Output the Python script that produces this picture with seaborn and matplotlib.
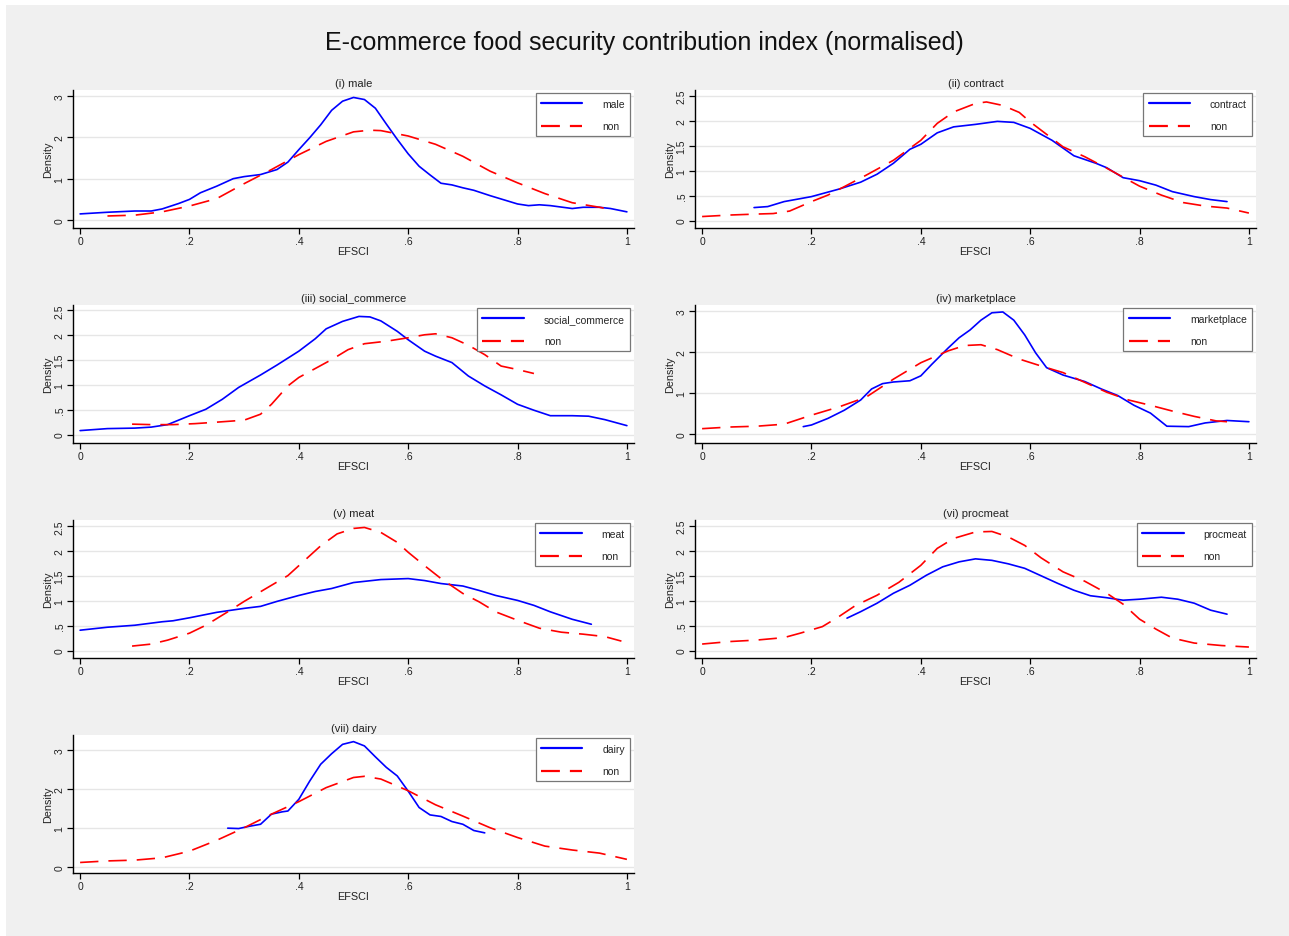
import matplotlib
matplotlib.use("Agg")
import matplotlib.pyplot as plt
from matplotlib.patches import Rectangle
import seaborn as sns
import pandas as pd

# ---------------- data ----------------
main_title = "E-commerce food security contribution index (normalised)"
panel_titles = ["(i) male", "(ii) contract", "(iii) social_commerce", "(iv) marketplace",
                "(v) meat", "(vi) procmeat", "(vii) dairy"]
group_labels = ["male", "contract", "social_commerce", "marketplace", "meat", "procmeat", "dairy"]
other_label = "non"
x_label = "EFSCI"
y_label = "Density"
x_ticks = [0, 0.2, 0.4, 0.6, 0.8, 1.0]
x_ticklabels = ["0", ".2", ".4", ".6", ".8", "1"]

male_x = [0, .05, .1, .13, .15, .18, .2, .22, .25, .28, .3, .33, .36, .38, .4, .42, .44, .46, .48, .5,
          .52, .54, .56, .58, .6, .62, .64, .66, .68, .7, .72, .75, .78, .8, .82, .84, .86, .9, .92, .95, .97, 1.0]
male_y = [.15, .19, .22, .22, .27, .4, .5, .66, .82, 1.0, 1.05, 1.1, 1.22, 1.4, 1.7, 1.99, 2.3, 2.65, 2.87, 2.96,
          2.91, 2.7, 2.32, 1.95, 1.6, 1.3, 1.09, .89, .85, .78, .72, .59, .47, .39, .35, .37, .35, .28, .31, .31, .28, .2]
male_non_x = [.05, .1, .15, .2, .25, .3, .35, .4, .45, .5, .53, .55, .6, .65, .7, .75, .8, .85, .9, .95, .97]
male_non_y = [.1, .12, .2, .34, .52, .88, 1.22, 1.58, 1.9, 2.13, 2.17, 2.16, 2.03, 1.83, 1.54, 1.18, .9, .64, .42, .31, .26]

contract_x = [.095, .12, .15, .2, .25, .29, .32, .35, .38, .4, .43, .46, .5, .54, .57, .6, .64, .68, .72, .74,
              .77, .8, .83, .86, .9, .93, .96]
contract_y = [.26, .28, .38, .48, .63, .77, .93, 1.15, 1.43, 1.53, 1.76, 1.88, 1.93, 1.99, 1.97, 1.85, 1.61, 1.3,
              1.15, 1.06, .86, .8, .71, .58, .48, .42, .38]
contract_non_x = [0, .05, .1, .13, .16, .2, .23, .26, .3, .35, .4, .43, .46, .5, .52, .55, .58, .6, .63, .66,
                  .7, .74, .78, .8, .84, .88, .92, .96, 1.0]
contract_non_y = [.08, .11, .13, .14, .19, .38, .51, .68, .91, 1.21, 1.61, 1.95, 2.18, 2.35, 2.38, 2.31, 2.17, 1.98,
                  1.73, 1.48, 1.28, 1.05, .81, .69, .51, .36, .29, .25, .15]

social_x = [0, .05, .1, .13, .16, .2, .23, .26, .29, .33, .36, .4, .43, .45, .48, .51, .53, .55, .58, .6, .63,
            .65, .68, .71, .74, .77, .8, .83, .86, .9, .93, .96, 1.0]
social_y = [.08, .12, .13, .15, .2, .38, .51, .71, .95, 1.2, 1.4, 1.68, 1.93, 2.13, 2.28, 2.38, 2.37, 2.29, 2.08,
            1.91, 1.68, 1.58, 1.45, 1.18, .98, .8, .61, .49, .38, .38, .37, .3, .18]
social_non_x = [.095, .13, .17, .21, .25, .3, .33, .35, .38, .4, .43, .46, .49, .52, .56, .6, .63, .65, .68,
                .71, .74, .77, .8, .83]
social_non_y = [.21, .2, .2, .22, .25, .29, .41, .61, .98, 1.15, 1.33, 1.51, 1.71, 1.83, 1.88, 1.95, 2.01, 2.03,
                1.95, 1.8, 1.61, 1.38, 1.31, 1.23]

market_x = [.185, .2, .23, .26, .29, .31, .33, .35, .38, .4, .42, .45, .47, .49, .51, .53, .55, .57, .59, .61,
            .63, .66, .7, .73, .76, .79, .82, .85, .89, .92, .96, 1.0]
market_y = [.18, .22, .38, .58, .83, 1.1, 1.23, 1.27, 1.3, 1.42, 1.7, 2.1, 2.35, 2.54, 2.78, 2.96, 2.98, 2.78,
            2.42, 1.98, 1.62, 1.44, 1.28, 1.1, .94, .7, .51, .19, .18, .27, .33, .3]
market_non_x = [0, .05, .1, .15, .2, .25, .3, .35, .4, .45, .48, .51, .54, .58, .62, .66, .7, .74, .78, .82,
                .86, .9, .94, .96]
market_non_y = [.13, .17, .19, .24, .46, .66, .9, 1.34, 1.74, 2.03, 2.16, 2.18, 2.06, 1.83, 1.66, 1.5, 1.26,
                1.02, .83, .7, .56, .43, .32, .3]

meat_x = [0, .05, .1, .15, .17, .2, .25, .3, .33, .36, .4, .43, .46, .5, .55, .6, .63, .66, .7, .73, .76, .8,
          .83, .86, .9, .935]
meat_y = [.41, .47, .51, .58, .6, .66, .77, .85, .89, .99, 1.11, 1.19, 1.25, 1.37, 1.43, 1.45, 1.41, 1.35, 1.3,
          1.21, 1.11, 1.01, .91, .78, .63, .53]
meat_non_x = [.095, .13, .16, .2, .23, .27, .3, .34, .38, .41, .44, .47, .5, .52, .55, .58, .6, .63, .66, .7,
              .73, .76, .8, .84, .88, .92, .96, .99]
meat_non_y = [.09, .13, .21, .35, .51, .78, .99, 1.25, 1.51, 1.81, 2.11, 2.35, 2.46, 2.48, 2.38, 2.18, 1.98,
              1.71, 1.45, 1.15, .98, .78, .61, .45, .37, .33, .28, .19]

proc_x = [.265, .29, .32, .35, .38, .41, .44, .47, .5, .53, .56, .59, .62, .65, .68, .71, .74, .77, .8, .84,
          .87, .9, .93, .96]
proc_y = [.65, .78, .95, 1.15, 1.31, 1.51, 1.68, 1.78, 1.84, 1.81, 1.74, 1.65, 1.5, 1.35, 1.21, 1.1, 1.06, 1.01,
          1.03, 1.07, 1.03, .95, .81, .73]
proc_non_x = [0, .05, .1, .15, .18, .22, .25, .28, .32, .36, .4, .43, .46, .5, .53, .56, .59, .62, .66, .7,
              .74, .77, .8, .83, .86, .9, .95, 1.0]
proc_non_y = [.13, .18, .21, .26, .35, .48, .68, .9, 1.11, 1.37, 1.71, 2.05, 2.25, 2.38, 2.39, 2.28, 2.11, 1.86,
              1.58, 1.39, 1.15, .93, .63, .43, .25, .15, .1, .07]

dairy_x = [.27, .29, .31, .33, .35, .37, .38, .4, .42, .44, .46, .48, .5, .52, .54, .56, .58, .6, .62, .64,
           .66, .68, .7, .72, .74]
dairy_y = [.99, .98, 1.04, 1.09, 1.35, 1.41, 1.43, 1.73, 2.2, 2.63, 2.9, 3.14, 3.21, 3.1, 2.82, 2.55, 2.33, 1.94,
           1.52, 1.33, 1.29, 1.16, 1.09, .93, .87]
dairy_non_x = [0, .05, .1, .15, .2, .25, .3, .35, .4, .45, .5, .52, .55, .6, .65, .7, .75, .8, .85, .9, .95, 1.0]
dairy_non_y = [.11, .15, .17, .23, .4, .68, 1.0, 1.35, 1.67, 2.03, 2.29, 2.32, 2.25, 1.95, 1.59, 1.3, 1.0, .75,
               .53, .43, .35, .19]

series = [
    (male_x, male_y, male_non_x, male_non_y),
    (contract_x, contract_y, contract_non_x, contract_non_y),
    (social_x, social_y, social_non_x, social_non_y),
    (market_x, market_y, market_non_x, market_non_y),
    (meat_x, meat_y, meat_non_x, meat_non_y),
    (proc_x, proc_y, proc_non_x, proc_non_y),
    (dairy_x, dairy_y, dairy_non_x, dairy_non_y),
]
y_ticks = [[0, 1, 2, 3], [0, .5, 1, 1.5, 2, 2.5], [0, .5, 1, 1.5, 2, 2.5], [0, 1, 2, 3],
           [0, .5, 1, 1.5, 2, 2.5], [0, .5, 1, 1.5, 2, 2.5], [0, 1, 2, 3]]

def fmt(v):
    if v == int(v):
        return str(int(v))
    s = ("%g" % v)
    return s[1:] if s.startswith("0.") else s

# ---------------- layout / style ----------------
W, H = 1289, 937
DPI = 100
sns.set_theme(style="white")
plt.rcParams["font.family"] = ["Liberation Sans", "DejaVu Sans"]

fig = plt.figure(figsize=(W / DPI, H / DPI), dpi=DPI, facecolor="white")
fig.patches.append(Rectangle((6 / W, 0), 1 - 6 / W, 1 - 6 / H, transform=fig.transFigure,
                             facecolor="#f0f0f0", edgecolor="none", zorder=-10))
fig.text(0.5, 1 - 43 / H, main_title, ha="center", va="center", fontsize=18, color="#111111")

col_left = [73, 695]
row_top = [91, 306, 521, 736]
ax_w, ax_h = 561, 138
ylims = [(-0.19, 3.14), (-0.15, 2.62), (-0.17, 2.61), (-0.22, 3.15),
         (-0.15, 2.63), (-0.15, 2.62), (-0.16, 3.38)]

BLUE = "#0000ff"
RED = "#ff0000"
FS = 7.5
DASH = (0, (11, 6))

for i in range(7):
    r, c = divmod(i, 2)
    left = col_left[c] / W
    bottom = 1 - (row_top[r] + ax_h) / H
    ax = fig.add_axes([left, bottom, ax_w / W, ax_h / H])
    ax.set_facecolor("white")
    gx, gy, nx, ny = series[i]
    d1 = pd.DataFrame({"x": gx, "y": gy})
    d2 = pd.DataFrame({"x": nx, "y": ny})
    sns.lineplot(data=d1, x="x", y="y", ax=ax, color=BLUE, lw=1.2, label=group_labels[i],
                 sort=False, estimator=None)
    sns.lineplot(data=d2, x="x", y="y", ax=ax, color=RED, lw=1.2, linestyle=DASH,
                 label=other_label, sort=False, estimator=None)
    ax.set_xlim(-0.013, 1.013)
    ax.set_ylim(*ylims[i])
    ax.set_xticks(x_ticks)
    ax.set_xticklabels(x_ticklabels)
    ax.set_yticks(y_ticks[i])
    ax.set_yticklabels([fmt(v) for v in y_ticks[i]], rotation=90, va="center")
    ax.grid(axis="y", color="#e6e6e6", lw=1.0)
    ax.grid(axis="x", visible=False)
    ax.set_axisbelow(True)
    for s in ["top", "right"]:
        ax.spines[s].set_visible(False)
    for s in ["left", "bottom"]:
        ax.spines[s].set_color("black")
        ax.spines[s].set_linewidth(1.0)
    ax.tick_params(axis="both", which="major", direction="out", length=4, width=0.9,
                   color="black", labelsize=FS, labelcolor="#222222", pad=2,
                   bottom=True, left=True)
    ax.set_xlabel(x_label, fontsize=FS + 0.3, labelpad=0, color="#222222")
    ax.set_ylabel(y_label, fontsize=FS + 0.3, labelpad=1, color="#222222")
    ax.set_title(panel_titles[i], fontsize=FS + 0.5, pad=3, color="#222222")
    leg = ax.legend(loc="upper right", bbox_to_anchor=(0.993, 0.975), fontsize=FS,
                    frameon=True, fancybox=False, edgecolor="#777777", framealpha=1,
                    handlelength=4.0, handletextpad=1.9, labelspacing=1.2,
                    borderpad=0.5, borderaxespad=0.0)
    leg.get_frame().set_linewidth(0.9)
    for line in leg.get_lines():
        line.set_linewidth(1.6)
        if line.get_color() in (RED, "red"):
            line.set_dashes((8.5, 4.5))

fig.savefig("out.png", dpi=DPI, facecolor=fig.get_facecolor())
